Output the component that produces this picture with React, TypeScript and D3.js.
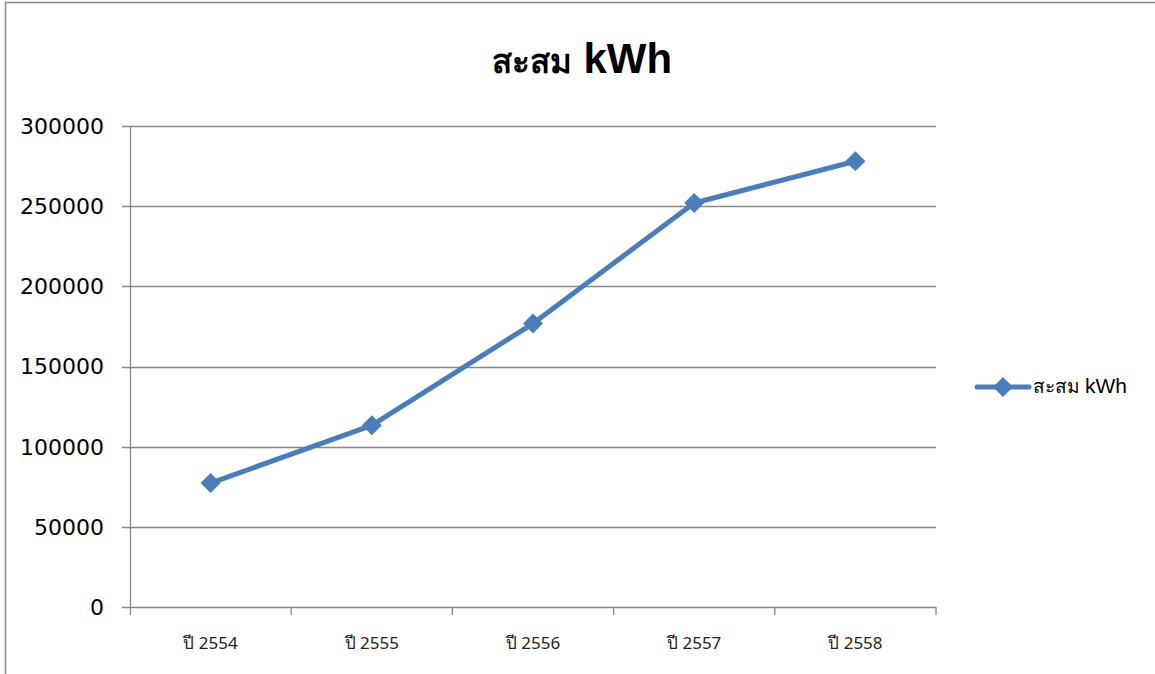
import * as React from 'react'
import * as d3 from 'd3'

const categories = ['ปี 2554', 'ปี 2555', 'ปี 2556', 'ปี 2557', 'ปี 2558']
const kwhValues = [77300, 113300, 176800, 252000, 278000]
const yTicks = [0, 50000, 100000, 150000, 200000, 250000, 300000]
const seriesName = 'สะสม kWh'
const titleThai = 'สะสม'
const titleUnit = 'kWh'

const W = 1155
const H = 674
const margin = { left: 130, right: 219, top: 126, bottom: 67 }
const BLUE = '#4a7ebb'
const GRID = '#878787'

const diamond = (cx: number, cy: number, r: number) =>
    `M${cx},${cy - r}L${cx + r},${cy}L${cx},${cy + r}L${cx - r},${cy}Z`

export default function App() {
    const innerW = W - margin.left - margin.right
    const innerH = H - margin.top - margin.bottom
    const x = d3.scaleBand<string>().domain(categories).range([0, innerW])
    const y = d3.scaleLinear().domain([0, 300000]).range([innerH, 0])
    const line = d3.line<number>()
        .x((_, i) => (x(categories[i]) as number) + x.bandwidth() / 2)
        .y(d => y(d))

    const edges = categories.map(c => x(c) as number).concat([innerW])

    return <svg width={W} height={H} style={{ position: 'absolute', left: 0, top: 0 }}>
        <rect x={0} y={0} width={W} height={H} fill='#fff' />
        <path d={`M5.5,${H}V2.5H${W}`} fill='none' stroke='#8c8c8c' strokeWidth={1.5} />
        <text x={582} y={73} textAnchor='middle' fontWeight='bold' fill='#000'>
            <tspan fontFamily='"Noto Sans", "DejaVu Sans", sans-serif' fontSize={33}>{titleThai}</tspan>
            <tspan fontFamily='"Liberation Sans", Arial, sans-serif' fontSize={42}>{' ' + titleUnit}</tspan>
        </text>
        <g transform={`translate(${margin.left}, ${margin.top})`}>
            {yTicks.map(t => (
                <g key={t}>
                    <line x1={-8} x2={innerW} y1={Math.round(y(t)) + 0.5} y2={Math.round(y(t)) + 0.5}
                        stroke={GRID} strokeWidth={1.3} />
                    <text x={-26} y={y(t)} dy='0.36em' textAnchor='end'
                        fontFamily='"DejaVu Sans", sans-serif' fontSize={22} fill='#000'>{t}</text>
                </g>
            ))}
            <line x1={0.5} x2={0.5} y1={0} y2={innerH + 8} stroke={GRID} strokeWidth={1.3} />
            {edges.slice(1).map((e, i) => (
                <line key={i} x1={e} x2={e} y1={innerH} y2={innerH + 8} stroke={GRID} strokeWidth={1.3} />
            ))}
            {categories.map(c => (
                <text key={c} x={(x(c) as number) + x.bandwidth() / 2} y={innerH + 42} textAnchor='middle'
                    fontFamily='"Noto Sans", "DejaVu Sans Condensed", sans-serif' fontSize={17} fill='#222'
                    style={{ fontStretch: 'condensed' }}>{c}</text>
            ))}
            <path d={line(kwhValues) || ''} fill='none' stroke={BLUE} strokeWidth={5} strokeLinejoin='round' />
            {kwhValues.map((v, i) => (
                <path key={i} d={diamond((x(categories[i]) as number) + x.bandwidth() / 2, y(v), 10)} fill={BLUE} />
            ))}
        </g>
        <g>
            <line x1={977} x2={1029} y1={387} y2={387} stroke={BLUE} strokeWidth={5} strokeLinecap='round' />
            <path d={diamond(1003, 387, 10)} fill={BLUE} />
            <text x={1033} y={387} dy='0.36em' fill='#000'>
                <tspan fontFamily='"Noto Sans", "DejaVu Sans", sans-serif' fontSize={19}>{'สะสม '}</tspan>
                <tspan fontFamily='"Liberation Sans", Arial, sans-serif' fontSize={21}>kWh</tspan>
            </text>
        </g>
    </svg>
}
